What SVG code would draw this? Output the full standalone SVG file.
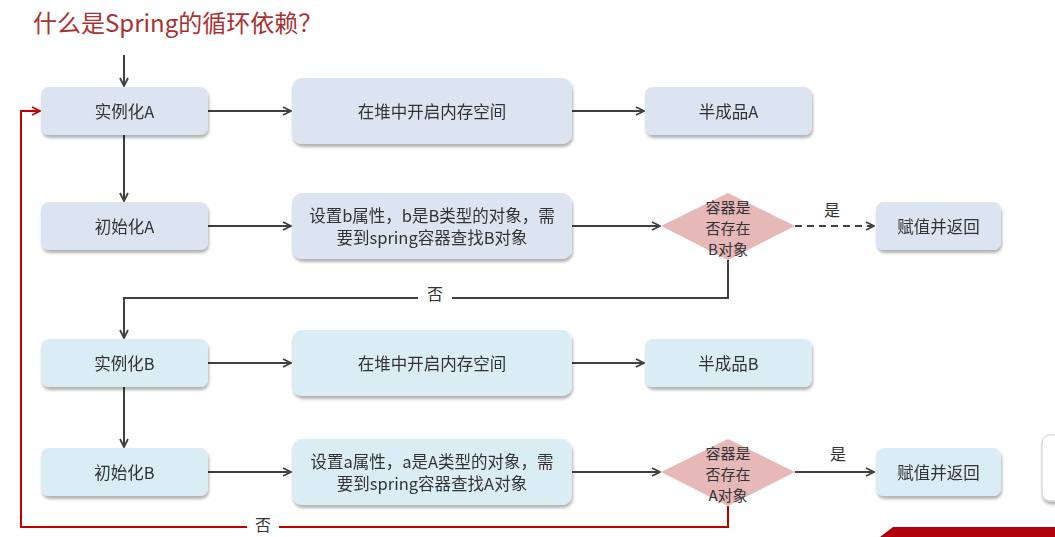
<svg xmlns="http://www.w3.org/2000/svg" width="1055" height="537" viewBox="0 0 1055 537">
<style>
.t{font-family:"Noto Sans CJK SC","Liberation Sans",sans-serif;font-size:16.5px;fill:#333;text-anchor:middle;dominant-baseline:central}
.d{font-family:"Noto Sans CJK SC","Liberation Sans",sans-serif;font-size:15px;fill:#333;text-anchor:middle;dominant-baseline:central}
.ba{fill:#dce4f1}
.bb{fill:#dbedf4}
.dm{fill:#e6b8b8}
.ln{stroke:#404040;stroke-width:2;fill:none}
.rd{stroke:#c00000;stroke-width:2;fill:none}
.lb{font-family:"Noto Sans CJK SC","Liberation Sans",sans-serif;font-size:16px;fill:#333;text-anchor:middle;dominant-baseline:central}
</style>
<defs>
<filter id="sh" x="-10%" y="-20%" width="120%" height="150%">
<feDropShadow dx="1" dy="3" stdDeviation="1.5" flood-color="#000" flood-opacity="0.3"/>
</filter>
<marker id="ar" viewBox="0 0 10 10" refX="9" refY="5" markerWidth="10" markerHeight="10" markerUnits="userSpaceOnUse" orient="auto">
<path d="M1,1 L9,5 L1,9" fill="none" stroke="#404040" stroke-width="1.8"/>
</marker>
<marker id="arr" viewBox="0 0 10 10" refX="9" refY="5" markerWidth="10" markerHeight="10" markerUnits="userSpaceOnUse" orient="auto">
<path d="M1,1 L9,5 L1,9" fill="none" stroke="#c00000" stroke-width="1.8"/>
</marker>
</defs>
<rect width="1055" height="537" fill="#fff"/>
<text x="33" y="21" font-family="Noto Sans CJK SC,Liberation Sans,sans-serif" font-size="24" fill="#a83232" dominant-baseline="central">什么是Spring的循环依赖？</text>

<g id="connectors">
<line class="ln" x1="124" y1="55" x2="124" y2="86" marker-end="url(#ar)"/>
<line class="ln" x1="208" y1="111" x2="291" y2="111" marker-end="url(#ar)"/>
<line class="ln" x1="572" y1="111" x2="644" y2="111" marker-end="url(#ar)"/>
<line class="ln" x1="124" y1="135" x2="124" y2="201" marker-end="url(#ar)"/>
<line class="ln" x1="208" y1="226" x2="291" y2="226" marker-end="url(#ar)"/>
<line class="ln" x1="572" y1="226" x2="660" y2="226" marker-end="url(#ar)"/>
<line class="ln" x1="795" y1="226" x2="874" y2="226" stroke-dasharray="7,5" marker-end="url(#ar)"/>
<polyline class="ln" points="728,260 728,298 124,298 124,338" marker-end="url(#ar)"/>
<rect x="418" y="285" width="34" height="24" fill="#fff"/>
<text class="lb" x="435" y="293">否</text>
<text class="lb" x="832" y="209">是</text>
<line class="ln" x1="208" y1="363" x2="291" y2="363" marker-end="url(#ar)"/>
<line class="ln" x1="572" y1="363" x2="644" y2="363" marker-end="url(#ar)"/>
<line class="ln" x1="124" y1="387" x2="124" y2="447" marker-end="url(#ar)"/>
<line class="ln" x1="208" y1="472" x2="291" y2="472" marker-end="url(#ar)"/>
<line class="ln" x1="572" y1="472" x2="660" y2="472" marker-end="url(#ar)"/>
<line class="ln" x1="795" y1="472" x2="874" y2="472" marker-end="url(#ar)"/>
<text class="lb" x="838" y="453">是</text>
<polyline class="rd" points="728,506 728,527 21,527 21,111 40,111" marker-end="url(#arr)"/>
<rect x="247" y="515" width="32" height="22" fill="#fff"/>
<text class="lb" x="263" y="524">否</text>
</g>

<g id="n1" filter="url(#sh)"><rect class="ba" x="41" y="87" width="167" height="48" rx="8"/><text class="t" x="124.5" y="111">实例化A</text></g>
<g id="n2" filter="url(#sh)"><rect class="ba" x="292" y="78" width="280" height="66" rx="10"/><text class="t" x="432" y="111">在堆中开启内存空间</text></g>
<g id="n3" filter="url(#sh)"><rect class="ba" x="645" y="87" width="167" height="48" rx="8"/><text class="t" x="728.5" y="111">半成品A</text></g>
<g id="n4" filter="url(#sh)"><rect class="ba" x="41" y="202" width="167" height="48" rx="8"/><text class="t" x="124.5" y="226">初始化A</text></g>
<g id="n5" filter="url(#sh)"><rect class="ba" x="292" y="193" width="280" height="66" rx="10"/><text class="t" x="432" y="215">设置b属性，b是B类型的对象，需</text><text class="t" x="432" y="237">要到spring容器查找B对象</text></g>
<g id="n6"><polygon class="dm" points="661,226 728,193 795,226 728,260"/><text class="d" x="728" y="206">容器是</text><text class="d" x="728" y="227">否存在</text><text class="d" x="728" y="248">B对象</text></g>
<g id="n7" filter="url(#sh)"><rect class="ba" x="876" y="202" width="125" height="48" rx="8"/><text class="t" x="938.5" y="226">赋值并返回</text></g>

<g id="n8" filter="url(#sh)"><rect class="bb" x="41" y="339" width="167" height="48" rx="8"/><text class="t" x="124.5" y="363">实例化B</text></g>
<g id="n9" filter="url(#sh)"><rect class="bb" x="292" y="330" width="280" height="66" rx="10"/><text class="t" x="432" y="363">在堆中开启内存空间</text></g>
<g id="n10" filter="url(#sh)"><rect class="bb" x="645" y="339" width="167" height="48" rx="8"/><text class="t" x="728.5" y="363">半成品B</text></g>
<g id="n11" filter="url(#sh)"><rect class="bb" x="41" y="448" width="167" height="48" rx="8"/><text class="t" x="124.5" y="472">初始化B</text></g>
<g id="n12" filter="url(#sh)"><rect class="bb" x="292" y="439" width="280" height="66" rx="10"/><text class="t" x="432" y="461">设置a属性，a是A类型的对象，需</text><text class="t" x="432" y="483">要到spring容器查找A对象</text></g>
<g id="n13"><polygon class="dm" points="661,472 728,439 795,472 728,506"/><text class="d" x="728" y="452">容器是</text><text class="d" x="728" y="473">否存在</text><text class="d" x="728" y="494">A对象</text></g>
<g id="n14" filter="url(#sh)"><rect class="bb" x="876" y="448" width="125" height="48" rx="8"/><text class="t" x="938.5" y="472">赋值并返回</text></g>

<g id="overlay">
<rect x="1042" y="435" width="30" height="66" rx="8" fill="#fff" stroke="#ccc" stroke-width="1" filter="url(#sh)"/>
<polygon points="893,527 1055,527 1055,537 880,537" fill="#b00010"/>
</g>
</svg>
